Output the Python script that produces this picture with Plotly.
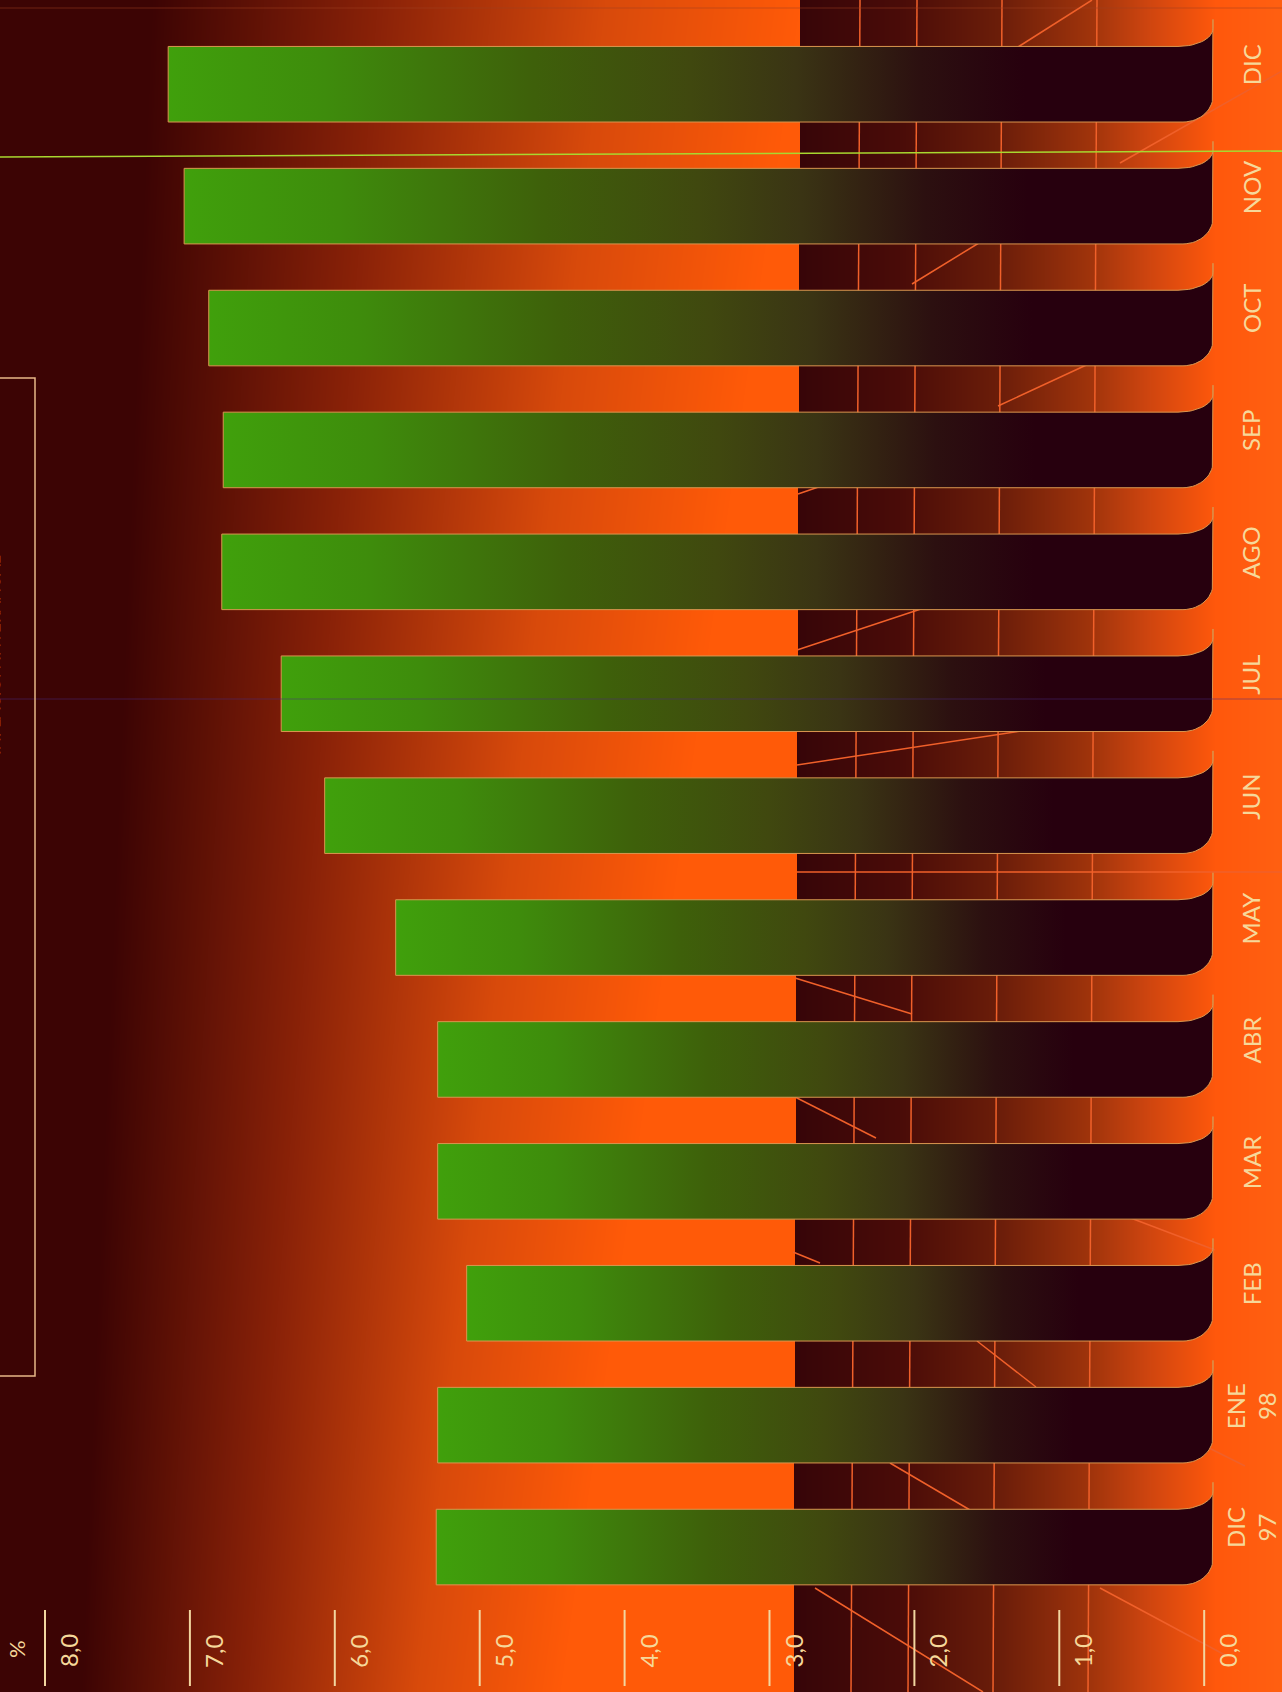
import base64
import struct
import zlib

import numpy as np
import plotly.graph_objects as go

# ---------------- data ----------------
categories = ["DIC<br>97", "ENE<br>98", "FEB", "MAR", "ABR", "MAY", "JUN",
              "JUL", "AGO", "SEP", "OCT", "NOV", "DIC"]
values = [5.30, 5.29, 5.09, 5.29, 5.29, 5.58, 6.07, 6.37, 6.78, 6.77, 6.87, 7.04, 7.15]
tick_values = [0, 1, 2, 3, 4, 5, 6, 7, 8]
tick_labels = ["0,0", "1,0", "2,0", "3,0", "4,0", "5,0", "6,0", "7,0", "8,0"]
unit_label = "%"
title_text = "INFLACIÓN INTERANUAL"

W, H = 1282, 1692
X_RANGE = [8.3106, -0.537]
Y_RANGE = [-1.189, 12.691]
PX_X = 144.9   # pixels per value unit
PX_Y = 121.9   # pixels per category


def px(xp):
    return xp / W


def py(yp):
    return 1 - yp / H


# ---------------- background picture ----------------
def png_uri(arr):
    h, w, _ = arr.shape
    a = arr.astype(np.int16)
    sub = np.empty_like(a)
    sub[:, 0, :] = a[:, 0, :]
    sub[:, 1:, :] = (a[:, 1:, :] - a[:, :-1, :]) % 256
    rows = sub.astype(np.uint8).reshape(h, w * 3)
    raw = np.concatenate([np.ones((h, 1), np.uint8), rows], axis=1).tobytes()

    def chunk(t, d):
        return struct.pack(">I", len(d)) + t + d + struct.pack(">I", zlib.crc32(t + d) & 0xffffffff)

    png = (b"\x89PNG\r\n\x1a\n"
           + chunk(b"IHDR", struct.pack(">IIBBBBB", w, h, 8, 2, 0, 0, 0))
           + chunk(b"IDAT", zlib.compress(raw, 9))
           + chunk(b"IEND", b""))
    return "data:image/png;base64," + base64.b64encode(png).decode()


yy, xx = np.mgrid[0:H, 0:W].astype(float)
fy = yy / H
a_ = 150 - 70 * fy
b_ = 800 - 240 * fy
t = np.clip((xx - a_) / (b_ - a_), 0, 1)
left_stops = [0, 0.35, 0.7, 1.0]
left_cols = np.array([(0x3c, 0x04, 0x04), (0x8a, 0x22, 0x08), (0xd8, 0x4a, 0x0c), (0xff, 0x5a, 0x08)], float)
right_stops = [790, 900, 1000, 1090, 1150, 1215, 1282]
right_cols = np.array([(0x36, 0x05, 0x08), (0x4a, 0x0c, 0x08), (0x6c, 0x1e, 0x0a), (0xa0, 0x34, 0x0c),
                       (0xd0, 0x46, 0x10), (0xff, 0x58, 0x0c), (0xff, 0x60, 0x12)], float)
edge = 800 - 7 * fy
img = np.zeros((H, W, 3))
for c in range(3):
    lc = np.interp(t, left_stops, left_cols[:, c])
    rc = np.interp(xx, right_stops, right_cols[:, c])
    img[:, :, c] = np.where(xx < edge, lc, rc)
bg_uri = png_uri(np.clip(img, 0, 255).astype(np.uint8))

# ---------------- figure ----------------
fig = go.Figure()

bar_scale = [[0.0, "#40a00c"], [0.15, "#3e8c0c"], [0.35, "#3e600a"], [0.5, "#40480f"],
             [0.6, "#3a3414"], [0.72, "#2c1010"], [0.82, "#27000e"], [1.0, "#27000e"]]

half = 0.31
end_x = -0.0607             # right end of the bar foot
flare_w = 35 / PX_X
flare_h = 18 / PX_Y
tip_h = 27 / PX_Y
corner_w = 30 / PX_X
corner_h = 26 / PX_Y
ts = np.linspace(0, np.pi / 2, 16)

for i, (cat, v) in enumerate(zip(categories, values)):
    yt, yb = i + half, i - half
    xs = [v, v]
    ys = [yb, yt]
    c1 = end_x + flare_w
    xs += list(c1 + (end_x - c1) * np.sin(ts))
    ys += list(yt + flare_h - flare_h * np.cos(ts))
    xs += [end_x, end_x, end_x]
    ys += [yt + tip_h, yt + flare_h, yb + corner_h]
    xs += list(end_x + corner_w * (1 - np.cos(ts)))
    ys += list(yb + corner_h * (1 - np.sin(ts)))
    xs += [v]
    ys += [yb]
    fig.add_trace(go.Scatter(
        x=xs, y=ys, mode="lines", fill="toself",
        fillgradient=dict(type="horizontal", colorscale=bar_scale, start=v, stop=end_x),
        line=dict(color="#d9964f", width=1),
        hoverinfo="skip", showlegend=False,
    ))

shapes = []
line_col = "#f0602a"
# vertical rules of the dark panel (bottom x, top x)
for xb, xt in [(851, 860), (908, 917), (993, 1002), (1088, 1097)]:
    shapes.append(dict(type="line", xref="paper", yref="paper", x0=px(xb), y0=0, x1=px(xt), y1=1,
                       line=dict(color=line_col, width=1.5), layer="below"))
# horizontal rules
shapes.append(dict(type="line", xref="paper", yref="paper", x0=px(797), y0=py(872), x1=1, y1=py(872),
                   line=dict(color=line_col, width=1.5), layer="below"))
shapes.append(dict(type="line", xref="paper", yref="paper", x0=0, y0=py(8), x1=1, y1=py(8),
                   line=dict(color="#a04020", width=1), opacity=0.5, layer="below"))
# diagonal lines of the background
diag = [((1018, 47), (1092, 0)), ((1120, 163), (1282, 71)), ((912, 284), (987, 238)),
        ((998, 406), (1095, 361)), ((798, 494), (836, 481)), ((797, 650), (933, 605)),
        ((797, 765), (1047, 727)), ((795, 978), (912, 1014)), ((795, 1097), (876, 1138)),
        ((1128, 1217), (1215, 1250)), ((793, 1252), (820, 1263)), ((977, 1341), (1036, 1387)),
        ((890, 1463), (970, 1510)), ((1195, 1441), (1245, 1466)), ((815, 1588), (983, 1692)),
        ((1100, 1588), (1225, 1655))]
for (x0, y0), (x1, y1) in diag:
    shapes.append(dict(type="line", xref="paper", yref="paper", x0=px(x0), y0=py(y0), x1=px(x1), y1=py(y1),
                       line=dict(color=line_col, width=1.5), layer="below"))
# scan lines
shapes.append(dict(type="line", xref="paper", yref="paper", x0=0, y0=py(157), x1=1, y1=py(151),
                   line=dict(color="#a8d830", width=1.5), layer="above"))
shapes.append(dict(type="line", xref="paper", yref="paper", x0=0, y0=py(699), x1=1, y1=py(699),
                   line=dict(color="#4a2a80", width=1), opacity=0.5, layer="above"))
# title box
shapes.append(dict(type="rect", xref="paper", yref="paper", x0=px(-10), x1=px(35), y0=py(1376), y1=py(378),
                   line=dict(color="#e8b888", width=1.5), fillcolor="rgba(0,0,0,0)", layer="above"))
# value tick marks
for tv in tick_values:
    shapes.append(dict(type="line", xref="x", yref="paper", x0=tv, x1=tv, y0=py(1686), y1=py(1610),
                       line=dict(color="#f2d6a0", width=2), layer="above"))

annotations = []
txt_font = dict(family="Lato, 'Open Sans', sans-serif", size=24, color="#f6d89a")
for tv, tl in zip(tick_values, tick_labels):
    annotations.append(dict(x=tv, xref="x", y=py(1651), yref="paper", text=tl, showarrow=False,
                            textangle=-90, xanchor="center", yanchor="middle", xshift=23, font=txt_font))
annotations.append(dict(x=px(16), xref="paper", y=py(1649), yref="paper", text=unit_label, showarrow=False,
                        textangle=-90, xanchor="center", yanchor="middle",
                        font=dict(family=txt_font["family"], size=22, color="#f6d89a")))
for i, cat in enumerate(categories):
    annotations.append(dict(x=px(1251), xref="paper", y=i, yref="y", text=cat, showarrow=False,
                            textangle=-90, xanchor="center", yanchor="middle", yshift=19,
                            font=txt_font))
annotations.append(dict(x=px(-7), xref="paper", y=py(655), yref="paper", text=title_text, showarrow=False,
                        textangle=-90, xanchor="center", yanchor="middle",
                        font=dict(family=txt_font["family"], size=17, color="#f6d89a")))

fig.update_layout(
    width=W, height=H,
    margin=dict(l=0, r=0, t=0, b=0),
    paper_bgcolor="#ff5a08",
    plot_bgcolor="rgba(0,0,0,0)",
    images=[dict(source=bg_uri, xref="paper", yref="paper", x=0, y=1, sizex=1, sizey=1,
                 xanchor="left", yanchor="top", sizing="stretch", layer="below")],
    shapes=shapes,
    annotations=annotations,
    xaxis=dict(range=X_RANGE, visible=False, showgrid=False, zeroline=False, fixedrange=True),
    yaxis=dict(range=Y_RANGE, visible=False, showgrid=False, zeroline=False, fixedrange=True),
    showlegend=False,
)

fig.write_html("out.html", config={"displayModeBar": False},
               post_script="document.body.style.margin='0px';")
